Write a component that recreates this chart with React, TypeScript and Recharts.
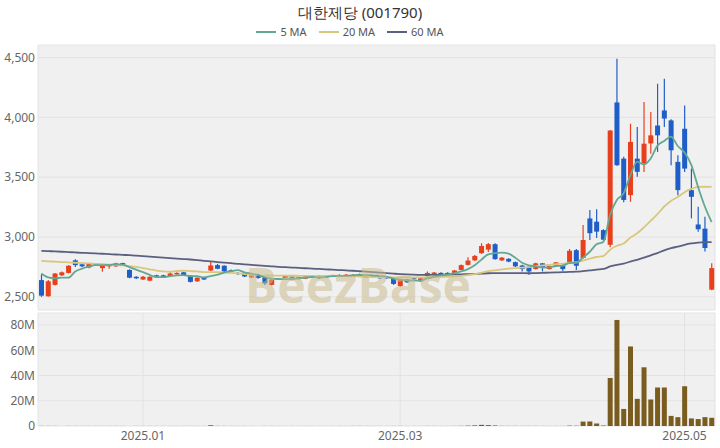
import { ComposedChart, Bar, Line, XAxis, YAxis, CartesianGrid } from 'recharts';

const dates = [
  '2024-12-09', '2024-12-10', '2024-12-11', '2024-12-12', '2024-12-13', '2024-12-16', '2024-12-17', '2024-12-18', '2024-12-19', '2024-12-20',
  '2024-12-23', '2024-12-24', '2024-12-26', '2024-12-27', '2024-12-30', '2025-01-02', '2025-01-03', '2025-01-06', '2025-01-07', '2025-01-08',
  '2025-01-09', '2025-01-10', '2025-01-13', '2025-01-14', '2025-01-15', '2025-01-16', '2025-01-17', '2025-01-20', '2025-01-21', '2025-01-22',
  '2025-01-23', '2025-01-24', '2025-01-31', '2025-02-03', '2025-02-04', '2025-02-05', '2025-02-06', '2025-02-07', '2025-02-10', '2025-02-11',
  '2025-02-12', '2025-02-13', '2025-02-14', '2025-02-17', '2025-02-18', '2025-02-19', '2025-02-20', '2025-02-21', '2025-02-24', '2025-02-25',
  '2025-02-26', '2025-02-27', '2025-02-28', '2025-03-04', '2025-03-05', '2025-03-06', '2025-03-07', '2025-03-10', '2025-03-11', '2025-03-12',
  '2025-03-13', '2025-03-14', '2025-03-17', '2025-03-18', '2025-03-19', '2025-03-20', '2025-03-21', '2025-03-24', '2025-03-25', '2025-03-26',
  '2025-03-27', '2025-03-28', '2025-03-31', '2025-04-01', '2025-04-02', '2025-04-03', '2025-04-04', '2025-04-07', '2025-04-08', '2025-04-09',
  '2025-04-10', '2025-04-11', '2025-04-14', '2025-04-15', '2025-04-16', '2025-04-17', '2025-04-18', '2025-04-21', '2025-04-22', '2025-04-23',
  '2025-04-24', '2025-04-25', '2025-04-28', '2025-04-29', '2025-04-30', '2025-05-02', '2025-05-07', '2025-05-08', '2025-05-09', '2025-05-12',
];

const opens = [
  2640, 2505, 2600, 2680, 2700, 2805, 2772, 2745, 2772, 2740,
  2755, 2755, 2782, 2725, 2668, 2645, 2635, 2680, 2680, 2672,
  2688, 2705, 2678, 2630, 2665, 2720, 2765, 2760, 2722, 2700,
  2695, 2662, 2675, 2665, 2600, 2652, 2658, 2668, 2665, 2652,
  2662, 2676, 2660, 2670, 2682, 2676, 2670, 2670, 2662, 2672,
  2668, 2665, 2650, 2590, 2645, 2655, 2630, 2675, 2690, 2700,
  2700, 2698, 2725, 2767, 2805, 2865, 2895, 2940, 2805, 2818,
  2790, 2762, 2752, 2732, 2780, 2732, 2760, 2765, 2790, 2890,
  2825, 3155, 3128, 3058, 2935, 4125, 3655, 3350, 3655, 3615,
  3782, 3932, 4058, 3975, 3628, 3905, 3392, 3105, 3070, 2560,
];

const highs = [
  2690, 2640, 2700, 2712, 2765, 2815, 2778, 2780, 2778, 2770,
  2775, 2785, 2785, 2730, 2672, 2675, 2672, 2685, 2685, 2705,
  2705, 2708, 2680, 2662, 2668, 2800, 2775, 2765, 2728, 2705,
  2700, 2685, 2680, 2668, 2650, 2658, 2680, 2672, 2668, 2680,
  2680, 2680, 2682, 2685, 2688, 2690, 2688, 2695, 2680, 2676,
  2672, 2668, 2655, 2650, 2650, 2660, 2660, 2712, 2708, 2705,
  2705, 2725, 2770, 2830, 2850, 2948, 2950, 2948, 2832, 2822,
  2795, 2768, 2756, 2785, 2782, 2762, 2792, 2770, 2900, 2900,
  3100, 3225, 3233, 3065, 3895, 4490, 3670, 3947, 3919, 4128,
  4044, 4281, 4322, 3985, 3683, 4100, 3572, 3253, 3169, 2780,
];

const lows = [
  2500, 2500, 2595, 2675, 2695, 2750, 2750, 2740, 2760, 2710,
  2735, 2750, 2765, 2655, 2650, 2640, 2630, 2665, 2662, 2668,
  2685, 2675, 2620, 2625, 2640, 2715, 2730, 2708, 2712, 2685,
  2665, 2658, 2652, 2598, 2595, 2645, 2655, 2650, 2645, 2648,
  2660, 2650, 2658, 2668, 2672, 2672, 2668, 2668, 2660, 2664,
  2650, 2650, 2600, 2585, 2615, 2645, 2625, 2670, 2685, 2680,
  2685, 2695, 2720, 2762, 2800, 2860, 2875, 2810, 2800, 2790,
  2750, 2712, 2685, 2728, 2712, 2728, 2755, 2715, 2780, 2725,
  2820, 2975, 2992, 2970, 2915, 3595, 3290, 3294, 3503, 3544,
  3697, 3711, 3919, 3600, 3350, 3544, 3156, 3044, 2878, 2555,
];

const closes = [
  2510, 2630, 2695, 2705, 2760, 2765, 2755, 2775, 2768, 2760,
  2770, 2780, 2768, 2660, 2655, 2668, 2668, 2670, 2666, 2695,
  2700, 2680, 2625, 2660, 2645, 2762, 2735, 2712, 2718, 2690,
  2670, 2680, 2658, 2612, 2645, 2648, 2676, 2655, 2650, 2676,
  2675, 2655, 2678, 2682, 2676, 2685, 2683, 2690, 2675, 2668,
  2655, 2655, 2608, 2645, 2622, 2650, 2655, 2700, 2703, 2685,
  2688, 2720, 2765, 2803, 2842, 2925, 2940, 2815, 2828, 2795,
  2755, 2732, 2712, 2780, 2748, 2758, 2788, 2732, 2885, 2760,
  2975, 3032, 3045, 2978, 3890, 3600, 3310, 3795, 3545, 3780,
  3850, 3850, 3990, 3725, 3392, 3572, 3336, 3065, 2908, 2740,
];

const ma5 = [
  2695, 2662, 2655, 2660, 2660, 2711, 2736, 2752, 2765, 2765,
  2766, 2771, 2769, 2748, 2727, 2706, 2684, 2664, 2665, 2673,
  2680, 2682, 2673, 2672, 2662, 2674, 2685, 2703, 2714, 2723,
  2705, 2694, 2683, 2662, 2653, 2649, 2648, 2647, 2655, 2661,
  2666, 2662, 2667, 2673, 2673, 2675, 2681, 2683, 2682, 2680,
  2674, 2669, 2652, 2646, 2637, 2636, 2636, 2654, 2666, 2679,
  2686, 2699, 2712, 2732, 2764, 2811, 2855, 2865, 2870, 2861,
  2827, 2785, 2764, 2755, 2745, 2746, 2757, 2761, 2782, 2785,
  2828, 2877, 2939, 2958, 3184, 3309, 3365, 3515, 3628, 3606,
  3656, 3764, 3803, 3839, 3761, 3706, 3603, 3418, 3255, 3124,
];

const ma20 = [
  2800, 2797, 2794, 2791, 2788, 2785, 2782, 2779, 2776, 2773,
  2770, 2767, 2764, 2757, 2750, 2740, 2730, 2720, 2713, 2710,
  2716, 2718, 2715, 2712, 2707, 2707, 2706, 2702, 2700, 2696,
  2691, 2686, 2681, 2679, 2678, 2677, 2677, 2677, 2676, 2675,
  2674, 2672, 2675, 2676, 2678, 2674, 2671, 2670, 2668, 2667,
  2666, 2665, 2662, 2664, 2663, 2663, 2662, 2664, 2667, 2667,
  2668, 2671, 2676, 2682, 2690, 2702, 2715, 2721, 2729, 2735,
  2740, 2744, 2749, 2756, 2762, 2768, 2774, 2776, 2785, 2789,
  2803, 2819, 2833, 2841, 2894, 2927, 2946, 2995, 3031, 3080,
  3135, 3191, 3255, 3302, 3334, 3375, 3402, 3419, 3420, 3419,
];

const ma60 = [
  2885, 2882, 2880, 2877, 2874, 2871, 2868, 2866, 2863, 2860,
  2857, 2854, 2851, 2848, 2844, 2840, 2836, 2832, 2828, 2824,
  2820, 2816, 2812, 2807, 2801, 2796, 2791, 2786, 2781, 2776,
  2771, 2767, 2763, 2759, 2755, 2751, 2748, 2745, 2742, 2739,
  2736, 2733, 2730, 2727, 2724, 2721, 2718, 2714, 2710, 2706,
  2702, 2698, 2694, 2690, 2687, 2685, 2684, 2683, 2683, 2683,
  2686, 2687, 2688, 2690, 2691, 2694, 2697, 2698, 2699, 2699,
  2699, 2698, 2697, 2699, 2701, 2702, 2704, 2706, 2709, 2710,
  2715, 2721, 2728, 2733, 2754, 2768, 2777, 2795, 2809, 2827,
  2847, 2866, 2889, 2907, 2920, 2935, 2946, 2953, 2957, 2958,
];

// volume in millions of shares
const volumes = [
  0.08, 0.07, 0.06, 0.05, 0.07, 0.06, 0.05, 0.05, 0.04, 0.05,
  0.05, 0.06, 0.05, 0.07, 0.05, 0.04, 0.04, 0.03, 0.03, 0.04,
  0.04, 0.04, 0.05, 0.04, 0.04, 0.6, 0.08, 0.06, 0.04, 0.04,
  0.04, 0.03, 0.04, 0.06, 0.05, 0.03, 0.03, 0.03, 0.03, 0.03,
  0.03, 0.03, 0.03, 0.03, 0.04, 0.03, 0.06, 0.07, 0.05, 0.04,
  0.03, 0.03, 0.05, 0.06, 0.04, 0.03, 0.03, 0.07, 0.05, 0.04,
  0.04, 0.07, 0.12, 0.3, 0.5, 0.9, 0.7, 0.4, 0.1, 0.08,
  0.08, 0.06, 0.07, 0.07, 0.05, 0.04, 0.05, 0.05, 0.3, 0.2,
  3.5, 3.6, 2.0, 0.4, 38, 84, 13.5, 63, 21.5, 46.5,
  21, 30.5, 30.5, 8, 7, 31.5, 6, 5.5, 7, 6.5,
];

const priceTicks = [2500, 3000, 3500, 4000, 4500];
const volumeTicks = [0, 20, 40, 60, 80];
const monthTicks = ['2025-01-02', '2025-03-04', '2025-05-02'];
const monthLabels = ['2025.01', '2025.03', '2025.05'];
const gridDates = ['2024-12-09', '2025-01-09', '2025-02-12', '2025-03-13', '2025-04-10'];

const UP = '#e8401c';
const DOWN = '#1f5ec8';
const FONT = '"Noto Sans", sans-serif';

const data = dates.map((date, i) => ({
  date,
  open: opens[i],
  high: highs[i],
  low: lows[i],
  close: closes[i],
  range: [lows[i], highs[i]],
  ma5: ma5[i],
  ma20: ma20[i],
  ma60: ma60[i],
  volume: volumes[i],
}));

const Candle = (props: any) => {
  const { x, y, width, height, payload } = props;
  if (!payload) return null;
  const { open, close, high, low } = payload;
  const color = close >= open ? UP : DOWN;
  const k = high > low ? height / (high - low) : 0;
  const top = y + (high - Math.max(open, close)) * k;
  const bodyH = Math.max(1, Math.abs(close - open) * k);
  const cx = x + width / 2;
  return (
    <g>
      <line x1={cx} x2={cx} y1={y} y2={y + height} stroke={color} strokeWidth={1.2} />
      <rect x={x} y={top} width={width} height={bodyH} fill={color} />
    </g>
  );
};

const legendItems = [
  { name: '5 MA', color: '#62a893' },
  { name: '20 MA', color: '#d9c77c' },
  { name: '60 MA', color: '#5c6080' },
];

const App = () => {
  return (
    <div
      style={{
        position: 'absolute',
        left: 0,
        top: 0,
        width: 720,
        height: 448,
        background: '#fff',
        fontFamily: FONT,
        overflow: 'hidden',
      }}
    >
      <div style={{ position: 'absolute', top: 2, width: 720, textAlign: 'center', fontSize: 15, color: '#333' }}>
        대한제당 (001790)
      </div>
      <div
        style={{
          position: 'absolute',
          top: 24,
          left: 0,
          width: 700,
          display: 'flex',
          justifyContent: 'center',
          gap: 12,
          fontSize: 11,
          color: '#555',
        }}
      >
        {legendItems.map((item) => (
          <div key={item.name} style={{ display: 'flex', alignItems: 'center', gap: 4 }}>
            <div style={{ width: 20, height: 2, background: item.color }} />
            <span>{item.name}</span>
          </div>
        ))}
      </div>

      <div style={{ position: 'absolute', left: 0, top: 0 }}>
        <ComposedChart width={720} height={311} data={data} margin={{ top: 45, right: 5, left: 0, bottom: 1 }}>
          <CartesianGrid fill="#f0f0f0" stroke="#e3e3e3" />
          <XAxis
            dataKey="date"
            ticks={gridDates}
            interval={0}
            tick={false}
            tickLine={false}
            axisLine={false}
            height={0}
          />
          <YAxis
            width={38}
            domain={[2390, 4605]}
            ticks={priceTicks}
            tickFormatter={(v: number) => v.toLocaleString('en-US')}
            tick={{ fontSize: 12, fill: '#666', fontFamily: FONT }}
            tickLine={false}
            axisLine={false}
            tickSize={0}
            tickMargin={3}
          />
          <Bar dataKey="range" barSize={5} shape={<Candle />} isAnimationActive={false} />
          <Line type="monotone" dataKey="ma60" stroke="#5c6080" strokeWidth={1.8} dot={false} activeDot={false} isAnimationActive={false} />
          <Line type="monotone" dataKey="ma20" stroke="#d9c77c" strokeWidth={1.8} dot={false} activeDot={false} isAnimationActive={false} />
          <Line type="monotone" dataKey="ma5" stroke="#62a893" strokeWidth={1.8} dot={false} activeDot={false} isAnimationActive={false} />
        </ComposedChart>
      </div>

      <div style={{ position: 'absolute', left: 0, top: 311 }}>
        <ComposedChart width={720} height={137} data={data} margin={{ top: 2, right: 5, left: 0, bottom: 0 }}>
          <CartesianGrid fill="#f0f0f0" stroke="#e3e3e3" />
          <XAxis
            dataKey="date"
            ticks={monthTicks}
            interval={0}
            tickFormatter={(v: string) => monthLabels[monthTicks.indexOf(v)]}
            tick={{ fontSize: 12, fill: '#666', fontFamily: FONT }}
            tickLine={false}
            axisLine={false}
            tickSize={0}
            tickMargin={5}
            height={22}
          />
          <YAxis
            width={38}
            domain={[0, 89.5]}
            ticks={volumeTicks}
            tickFormatter={(v: number) => (v === 0 ? '0' : `${v}M`)}
            tick={{ fontSize: 12, fill: '#666', fontFamily: FONT }}
            tickLine={false}
            axisLine={false}
            tickSize={0}
            tickMargin={3}
          />
          <Bar dataKey="volume" barSize={5} fill="#7a5c1e" isAnimationActive={false} />
        </ComposedChart>
      </div>

      <svg width={720} height={448} style={{ position: 'absolute', left: 0, top: 0, pointerEvents: 'none' }}>
        <text
          x={358}
          y={303}
          textAnchor="middle"
          fontSize={48}
          fontWeight={700}
          fontFamily='"Open Sans", sans-serif'
          fill="#c9bb8c"
          fillOpacity={0.55}
        >
          BeezBase
        </text>
      </svg>
    </div>
  );
};

export default App;
